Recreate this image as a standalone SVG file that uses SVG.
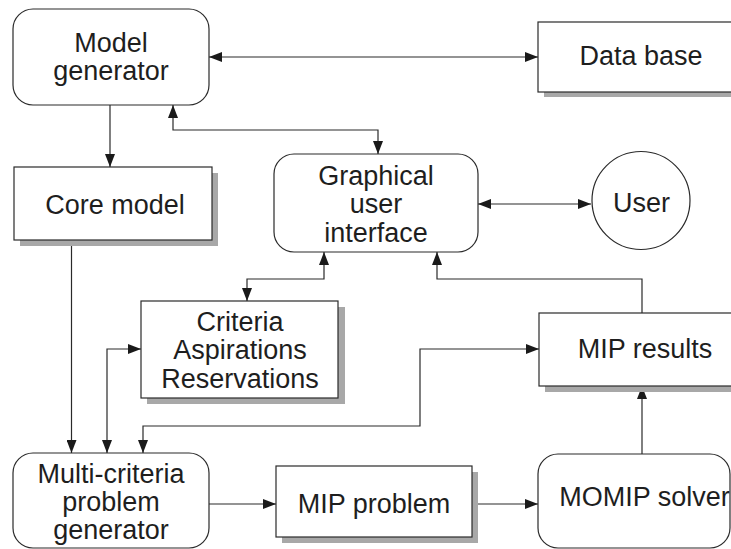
<svg xmlns="http://www.w3.org/2000/svg" width="731" height="549" viewBox="0 0 731 549">
<style>
.box{fill:#fff;stroke:#2a2a2a;stroke-width:1.2}
.sh{fill:#a8a8a8;stroke:none}
.t{font-family:"Liberation Sans",Arial,sans-serif;font-size:27px;fill:#1e1e1e;text-anchor:middle}
.c{fill:none;stroke:#2a2a2a;stroke-width:1.2}
</style>
<defs>
<marker id="a" markerUnits="userSpaceOnUse" markerWidth="14" markerHeight="10" refX="13" refY="5" orient="auto-start-reverse">
<path d="M0,0 L13,5 L0,10 z" fill="#1a1a1a"/>
</marker>
</defs>
<rect x="0" y="0" width="731" height="549" fill="#fff"/>
<g id="connectors">
<path class="c" d="M209,57 H538" marker-start="url(#a)" marker-end="url(#a)"/>
<path class="c" d="M110,105 V167" marker-end="url(#a)"/>
<path class="c" d="M173,105 V130 H378 V154" marker-start="url(#a)" marker-end="url(#a)"/>
<path class="c" d="M478,204 H591" marker-start="url(#a)" marker-end="url(#a)"/>
<path class="c" d="M324,252 V279 H247 V301" marker-start="url(#a)" marker-end="url(#a)"/>
<path class="c" d="M642,313 V279 H437 V252" marker-end="url(#a)"/>
<path class="c" d="M71.5,240 V453" marker-end="url(#a)"/>
<path class="c" d="M141,349 H107 V453" marker-start="url(#a)" marker-end="url(#a)"/>
<path class="c" d="M539,349 H420 V426 H143 V453" marker-start="url(#a)" marker-end="url(#a)"/>
<path class="c" d="M209,504 H276" marker-end="url(#a)"/>
<path class="c" d="M473,504 H538" marker-end="url(#a)"/>
<path class="c" d="M642,454 V386" marker-end="url(#a)"/>
</g>
<g id="model-generator">
<rect class="box" x="13" y="9" width="196" height="96" rx="20"/>
<text class="t" x="111" y="52">Model</text>
<text class="t" x="111" y="80">generator</text>
</g>
<g id="data-base">
<rect class="sh" x="544" y="28" width="210" height="69"/>
<rect class="box" x="538" y="22" width="210" height="70"/>
<text class="t" x="641" y="65">Data base</text>
</g>
<g id="core-model">
<rect class="sh" x="20" y="173" width="198" height="73"/>
<rect class="box" x="14" y="167" width="198" height="73"/>
<text class="t" x="115" y="214">Core model</text>
</g>
<g id="gui">
<rect class="box" x="274" y="154" width="204" height="98" rx="20"/>
<text class="t" x="376" y="185">Graphical</text>
<text class="t" x="376" y="213">user</text>
<text class="t" x="376" y="242">interface</text>
</g>
<g id="user">
<circle class="box" cx="641" cy="200.5" r="49"/>
<text class="t" x="641.5" y="211.5">User</text>
</g>
<g id="criteria">
<rect class="sh" x="147" y="307" width="198" height="97"/>
<rect class="box" x="141" y="301" width="197" height="97"/>
<text class="t" x="240" y="331">Criteria</text>
<text class="t" x="240" y="359">Aspirations</text>
<text class="t" x="240" y="388">Reservations</text>
</g>
<g id="mip-results">
<rect class="sh" x="545" y="319" width="210" height="73"/>
<rect class="box" x="539" y="313" width="210" height="73"/>
<text class="t" x="645" y="358">MIP results</text>
</g>
<g id="multi-criteria">
<rect class="box" x="13" y="453" width="196" height="95" rx="20"/>
<text class="t" x="111" y="482.5">Multi-criteria</text>
<text class="t" x="111" y="511">problem</text>
<text class="t" x="111" y="539">generator</text>
</g>
<g id="mip-problem">
<rect class="sh" x="282" y="472" width="196" height="71"/>
<rect class="box" x="276" y="466" width="196" height="71"/>
<text class="t" x="374" y="513">MIP problem</text>
</g>
<g id="momip-solver">
<rect class="box" x="538" y="454" width="192" height="94" rx="20"/>
<text class="t" x="644.5" y="506">MOMIP solver</text>
</g>
</svg>
